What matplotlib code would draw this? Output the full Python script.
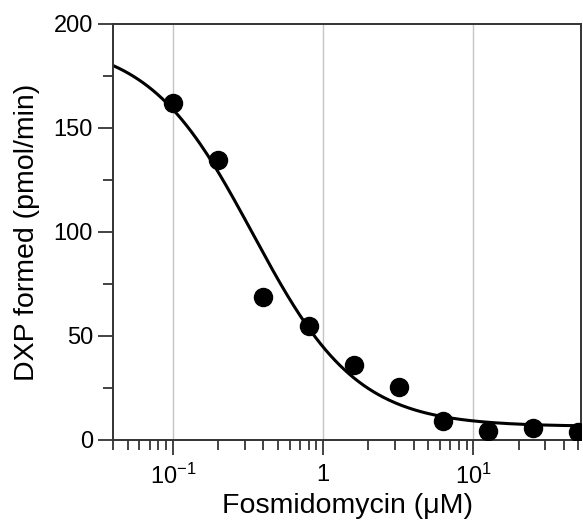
import numpy as np
import matplotlib
matplotlib.use("Agg")
import matplotlib.pyplot as plt
from matplotlib.ticker import FixedLocator, LogLocator, NullFormatter, MultipleLocator

plt.rcParams['font.family'] = ['Liberation Sans', 'DejaVu Sans']
plt.rcParams['mathtext.fontset'] = 'custom'
plt.rcParams['mathtext.rm'] = 'Liberation Sans'
plt.rcParams['mathtext.it'] = 'Liberation Sans:italic'

# Data
conc = [0.1, 0.2, 0.4, 0.8, 1.6, 3.2, 6.25, 12.5, 25, 50]
dxp = [162, 134.6, 68.8, 54.8, 36, 25.5, 9, 4.3, 5.8, 3.8]

# Fitted dose-response parameters
top, bottom, ic50, hill = 192, 6.5, 0.34, 1.25

xticks = [0.1, 1, 10]
xticklabels = [r'$\mathregular{10^{-1}}$', '1', r'$\mathregular{10^{1}}$']
yticks = [0, 50, 100, 150, 200]

fig = plt.figure(figsize=(5.83, 5.25), dpi=100)
ax = fig.add_axes([113/583, 1-440/525, (581-113)/583, (440-24)/525])

xs = np.logspace(np.log10(0.04), np.log10(60), 300)
ys = bottom + (top - bottom) / (1 + (xs / ic50) ** hill)

ax.set_xscale('log')
ax.set_xlim(0.04, 52)
ax.set_ylim(0, 200)

for xv in xticks:
    ax.axvline(xv, color='#c4c4c4', lw=1.0, zorder=0)

ax.plot(xs, ys, color='black', lw=2.2, zorder=2)
ax.plot(conc, dxp, 'o', color='black', ms=13, zorder=3, clip_on=True)

ax.xaxis.set_major_locator(FixedLocator(xticks))
ax.set_xticklabels(xticklabels)
ax.xaxis.set_minor_locator(LogLocator(base=10, subs=np.arange(2, 10)))
ax.xaxis.set_minor_formatter(NullFormatter())
ax.yaxis.set_major_locator(FixedLocator(yticks))
ax.yaxis.set_minor_locator(MultipleLocator(25))

ax.tick_params(which='major', direction='out', length=11, width=1.2, color='#222222',
               labelsize=17, pad=3.5)
ax.tick_params(axis='x', which='major', pad=6)
ax.tick_params(which='minor', direction='out', length=7, width=1.2, color='#222222')
ax.tick_params(top=False, right=False, which='both')

for s in ax.spines.values():
    s.set_linewidth(1.4)
    s.set_color('#333333')

ax.set_xlabel('Fosmidomycin (\u03bcM)', fontsize=20.5, labelpad=3)
ax.set_ylabel('DXP formed (pmol/min)', fontsize=20.5, labelpad=10)

fig.savefig('out.png', dpi=100)
